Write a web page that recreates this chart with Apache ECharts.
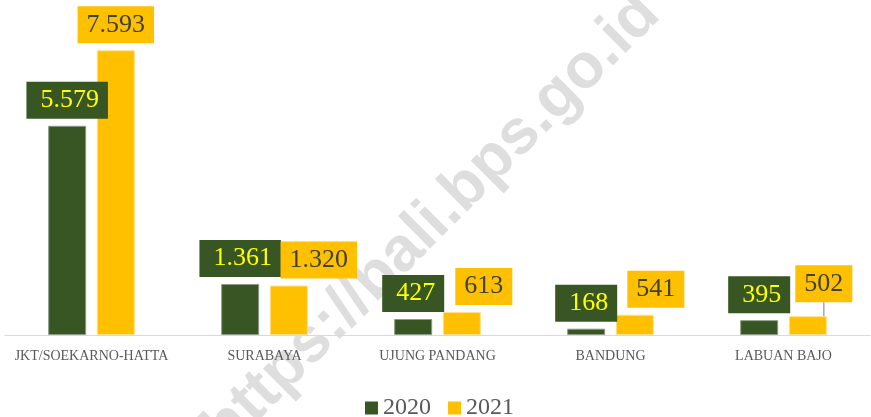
<!DOCTYPE html>
<html>
<head>
<meta charset="utf-8">
<script src="https://cdn.jsdelivr.net/npm/echarts@6/dist/echarts.min.js"></script>
<style>
  html, body { margin: 0; padding: 0; background: #fff; }
  #chart { width: 871px; height: 417px; }
</style>
</head>
<body>
<div id="chart"></div>
<script>
const categories = ['JKT/SOEKARNO-HATTA', 'SURABAYA', 'UJUNG PANDANG', 'BANDUNG', 'LABUAN BAJO'];
const seriesNames = ['2020', '2021'];
const values2020 = [5579, 1361, 427, 168, 395];
const values2021 = [7593, 1320, 613, 541, 502];

const labelFont = 'Liberation Serif';
// label nudges of the 2021 boxes, as placed in the original chart
const shift2021 = [[0, 0], [30, 0], [22, 0], [21, 0], [16, -7]];

function fmt(v) {
  // Indonesian thousands separator
  return String(v).replace(/\B(?=(\d{3})+(?!\d))/g, '.');
}

const option = {
  animation: false,
  backgroundColor: '#fff',
  grid: { left: 5, right: 1, top: 35, bottom: 82 },
  graphic: [{
    type: 'text',
    x: 432,
    y: 222,
    rotation: Math.PI / 4,
    z: -10,
    silent: true,
    style: {
      text: 'https://bali.bps.go.id',
      font: 'bold 63px "Liberation Sans"',
      fill: '#dedede',
      align: 'center',
      verticalAlign: 'middle'
    }
  }],
  legend: {
    left: 360,
    top: 391,
    itemWidth: 13,
    itemHeight: 13,
    itemGap: 17,
    icon: 'rect',
    itemStyle: { borderWidth: 0 },
    textStyle: { fontFamily: labelFont, fontSize: 24, color: '#595959' },
    data: seriesNames
  },
  xAxis: {
    type: 'category',
    data: categories,
    axisTick: { show: false },
    axisLine: { lineStyle: { color: '#d9d9d9', width: 1 } },
    axisLabel: {
      fontFamily: labelFont,
      fontSize: 14,
      color: '#595959',
      margin: 14,
      interval: 0
    }
  },
  yAxis: {
    type: 'value',
    min: 0,
    max: 8000,
    show: false,
    splitLine: { show: false }
  },
  series: [
    {
      name: seriesNames[0],
      type: 'bar',
      barWidth: 38,
      barGap: '28%',
      z: 2,
      itemStyle: { color: '#375623', borderColor: '#8d9a84', borderWidth: 1 },
      label: {
        show: true,
        position: 'top',
        distance: 7,
        formatter: p => fmt(p.value),
        fontFamily: labelFont,
        fontSize: 26,
        lineHeight: 27,
        color: '#ffff00',
        backgroundColor: '#375623',
        padding: [5, 9, 5, 14]
      },
      data: values2020
    },
    {
      name: seriesNames[1],
      type: 'bar',
      barWidth: 38,
      z: 2,
      itemStyle: { color: '#ffc000', borderColor: '#ffe08a', borderWidth: 1 },
      label: {
        show: true,
        position: 'top',
        distance: 7,
        formatter: p => fmt(p.value),
        fontFamily: labelFont,
        fontSize: 26,
        lineHeight: 27,
        color: '#404040',
        backgroundColor: '#ffc000',
        padding: [5, 9, 5, 9]
      },
      labelLayout: function (params) {
        const s = shift2021[params.dataIndex];
        return { dx: s[0], dy: s[1] };
      },
      labelLine: { show: false, lineStyle: { color: '#a6a6a6', width: 1.5 } },
      data: values2021.map((v, i) => i === 4 ? { value: v, labelLine: { show: true } } : v)
    }
  ]
};

const myChart = echarts.init(document.getElementById('chart'));
myChart.setOption(option);
</script>
</body>
</html>
